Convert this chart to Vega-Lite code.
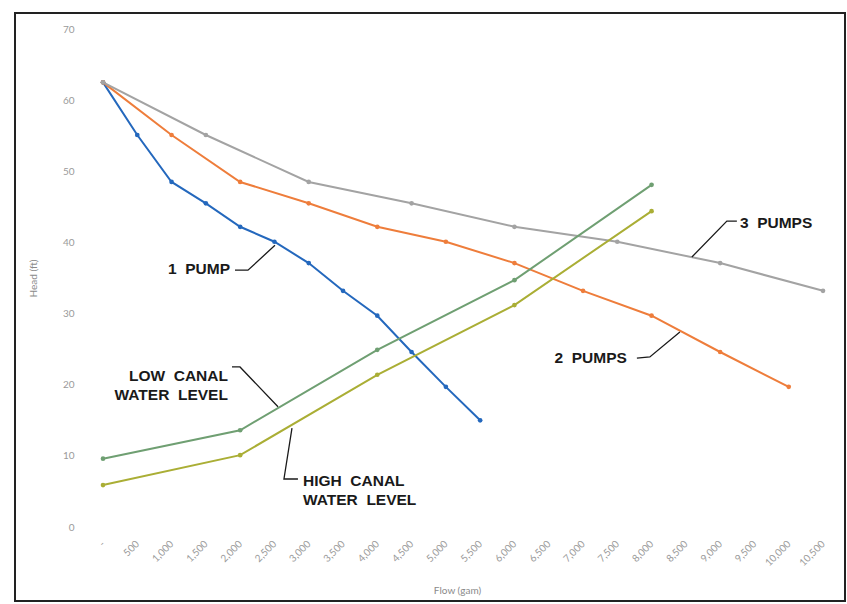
{
  "$schema": "https://vega.github.io/schema/vega-lite/v6.json",
  "width": 830,
  "height": 588,
  "autosize": {"type": "none"},
  "padding": {"left": 15, "top": 13, "right": 2, "bottom": 3},
  "background": "white",
  "config": {
    "view": {"stroke": "#222222", "strokeWidth": 2},
    "axis": {"labelFont": "Lato", "titleFont": "Lato", "labelColor": "#9a9a9a", "titleColor": "#8a8a8a", "labelFontSize": 10, "titleFontSize": 10, "titleFontWeight": "normal", "grid": false, "ticks": false, "tickSize": 0, "domain": false, "labelPadding": 0}
  },
  "datasets": {
    "curves": [
      {"series": "1 pump", "flow": 0, "head": 62.5},
      {"series": "1 pump", "flow": 500, "head": 55.1},
      {"series": "1 pump", "flow": 1000, "head": 48.5},
      {"series": "1 pump", "flow": 1500, "head": 45.5},
      {"series": "1 pump", "flow": 2000, "head": 42.2},
      {"series": "1 pump", "flow": 2500, "head": 40.1},
      {"series": "1 pump", "flow": 3000, "head": 37.1},
      {"series": "1 pump", "flow": 3500, "head": 33.2},
      {"series": "1 pump", "flow": 4000, "head": 29.7},
      {"series": "1 pump", "flow": 4500, "head": 24.6},
      {"series": "1 pump", "flow": 5000, "head": 19.7},
      {"series": "1 pump", "flow": 5500, "head": 15.0},
      {"series": "2 pumps", "flow": 0, "head": 62.5},
      {"series": "2 pumps", "flow": 1000, "head": 55.1},
      {"series": "2 pumps", "flow": 2000, "head": 48.5},
      {"series": "2 pumps", "flow": 3000, "head": 45.5},
      {"series": "2 pumps", "flow": 4000, "head": 42.2},
      {"series": "2 pumps", "flow": 5000, "head": 40.1},
      {"series": "2 pumps", "flow": 6000, "head": 37.1},
      {"series": "2 pumps", "flow": 7000, "head": 33.2},
      {"series": "2 pumps", "flow": 8000, "head": 29.7},
      {"series": "2 pumps", "flow": 9000, "head": 24.6},
      {"series": "2 pumps", "flow": 10000, "head": 19.7},
      {"series": "3 pumps", "flow": 0, "head": 62.5},
      {"series": "3 pumps", "flow": 1500, "head": 55.1},
      {"series": "3 pumps", "flow": 3000, "head": 48.5},
      {"series": "3 pumps", "flow": 4500, "head": 45.5},
      {"series": "3 pumps", "flow": 6000, "head": 42.2},
      {"series": "3 pumps", "flow": 7500, "head": 40.1},
      {"series": "3 pumps", "flow": 9000, "head": 37.1},
      {"series": "3 pumps", "flow": 10500, "head": 33.2},
      {"series": "Low canal", "flow": 0, "head": 9.6},
      {"series": "Low canal", "flow": 2000, "head": 13.6},
      {"series": "Low canal", "flow": 4000, "head": 24.9},
      {"series": "Low canal", "flow": 6000, "head": 34.7},
      {"series": "Low canal", "flow": 8000, "head": 48.1},
      {"series": "High canal", "flow": 0, "head": 5.9},
      {"series": "High canal", "flow": 2000, "head": 10.1},
      {"series": "High canal", "flow": 4000, "head": 21.4},
      {"series": "High canal", "flow": 6000, "head": 31.2},
      {"series": "High canal", "flow": 8000, "head": 44.4}
    ],
    "labels": [
      {"label": "1\u00a0 PUMP", "flow": 1852, "head": 36.3, "side": "right"},
      {"label": "2\u00a0 PUMPS", "flow": 7640, "head": 23.75, "side": "right"},
      {"label": "LOW\u00a0 CANAL\nWATER\u00a0 LEVEL", "flow": 1822, "head": 21.2, "side": "right"},
      {"label": "3\u00a0 PUMPS", "flow": 9288, "head": 42.7, "side": "left"},
      {"label": "HIGH\u00a0 CANAL\nWATER\u00a0 LEVEL", "flow": 2916, "head": 6.47, "side": "left"}
    ],
    "leaders": [
      {"id": "1", "i": 0, "flow": 1925, "head": 36.1},
      {"id": "1", "i": 1, "flow": 2114, "head": 36.1},
      {"id": "1", "i": 2, "flow": 2508, "head": 39.6},
      {"id": "2", "i": 0, "flow": 7786, "head": 23.75},
      {"id": "2", "i": 1, "flow": 7975, "head": 23.9},
      {"id": "2", "i": 2, "flow": 8413, "head": 27.4},
      {"id": "3", "i": 0, "flow": 9244, "head": 43.0},
      {"id": "3", "i": 1, "flow": 9098, "head": 43.0},
      {"id": "3", "i": 2, "flow": 8588, "head": 37.95},
      {"id": "L", "i": 0, "flow": 1881, "head": 22.5},
      {"id": "L", "i": 1, "flow": 1998, "head": 22.5},
      {"id": "L", "i": 2, "flow": 2552, "head": 16.9},
      {"id": "H", "i": 0, "flow": 2843, "head": 6.75},
      {"id": "H", "i": 1, "flow": 2639, "head": 6.75},
      {"id": "H", "i": 2, "flow": 2756, "head": 13.9}
    ]
  },
  "encoding": {
    "x": {"field": "flow", "type": "quantitative",
      "scale": {"domain": [-1283.3, 10820.8], "nice": false, "zero": false},
      "axis": {"orient": "bottom", "offset": -59, "title": "Flow (gam)", "titleX": 442, "titleY": 48, "titleAlign": "center", "titleBaseline": "middle",
        "values": [0, 500, 1000, 1500, 2000, 2500, 3000, 3500, 4000, 4500, 5000, 5500, 6000, 6500, 7000, 7500, 8000, 8500, 9000, 9500, 10000, 10500],
        "labelAngle": -45, "labelAlign": "right", "labelBaseline": "middle", "labelOverlap": false, "labelFlush": false,
        "labelExpr": "datum.value == 0 ? '-' : format(datum.value, ',')"}},
    "y": {"field": "head", "type": "quantitative",
      "scale": {"domain": [-10.4, 72.25], "nice": false, "zero": false},
      "axis": {"orient": "left", "offset": -59, "title": "Head (ft)", "titleX": -41, "titleY": 265, "titleAngle": -90, "titleAlign": "center", "titleBaseline": "middle",
        "values": [0, 10, 20, 30, 40, 50, 60, 70], "labelAlign": "right", "labelBaseline": "middle", "labelFlush": false, "labelOverlap": false}}
  },
  "layer": [
    {
      "data": {"name": "curves"},
      "mark": {"type": "line", "strokeWidth": 2, "point": {"filled": true, "size": 22}},
      "encoding": {
        "color": {"field": "series", "type": "nominal", "legend": null,
          "scale": {"domain": ["3 pumps", "2 pumps", "Low canal", "High canal", "1 pump"],
                    "range": ["#a3a3a3", "#ee7d3b", "#6f9f72", "#aaae35", "#2468bd"]}},
        "order": {"field": "flow", "type": "quantitative"}
      }
    },
    {
      "data": {"name": "leaders"},
      "mark": {"type": "line", "color": "#1a1a1a", "strokeWidth": 1.3},
      "encoding": {
        "detail": {"field": "id", "type": "nominal"},
        "order": {"field": "i", "type": "quantitative"}
      }
    },
    {
      "data": {"name": "labels"},
      "transform": [{"filter": "datum.side == 'right'"}],
      "mark": {"type": "text", "align": "right", "baseline": "middle", "font": "Liberation Sans, Arial, sans-serif", "fontWeight": "bold", "fontSize": 15.5, "lineBreak": "\n", "lineHeight": 19, "color": "#1a1a1a"},
      "encoding": {"text": {"field": "label", "type": "nominal"}}
    },
    {
      "data": {"name": "labels"},
      "transform": [{"filter": "datum.side == 'left'"}],
      "mark": {"type": "text", "align": "left", "baseline": "middle", "font": "Liberation Sans, Arial, sans-serif", "fontWeight": "bold", "fontSize": 15.5, "lineBreak": "\n", "lineHeight": 19, "color": "#1a1a1a"},
      "encoding": {"text": {"field": "label", "type": "nominal"}}
    }
  ]
}
